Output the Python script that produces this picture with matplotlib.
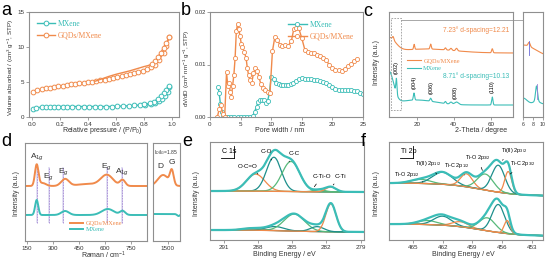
import numpy as np
import matplotlib
matplotlib.use("Agg")
import matplotlib.pyplot as plt

W, H = 546, 262
ORANGE = "#F08A4B"
TEAL = "#3BBDB7"
DTEAL = "#1D8F8C"
GREEN = "#58B97A"
SPINE = "#8F8F8F"
TXT = "#333333"

plt.rcParams["font.family"] = ["Liberation Sans", "DejaVu Sans"]
plt.rcParams["mathtext.fontset"] = "custom"
plt.rcParams["mathtext.rm"] = "Liberation Sans"
plt.rcParams["mathtext.it"] = "Liberation Sans:italic"
plt.rcParams["mathtext.bf"] = "Liberation Sans:bold"
SERIF = "Liberation Serif"

# ---------------- (a) N2 isotherms ----------------
a_gqd_ads_p = [0.01, 0.04, 0.07, 0.10, 0.13, 0.16, 0.19, 0.22, 0.25, 0.28, 0.31, 0.34, 0.37, 0.40, 0.43,
               0.46, 0.49, 0.52, 0.55, 0.58, 0.61, 0.64, 0.67, 0.70, 0.73, 0.76, 0.79, 0.82, 0.85, 0.88,
               0.91, 0.94, 0.96, 0.98]
a_gqd_ads_v = [3.6, 3.8, 3.95, 4.1, 4.2, 4.3, 4.4, 4.5, 4.55, 4.65, 4.7, 4.8, 4.9, 5.0, 5.05,
               5.15, 5.25, 5.35, 5.45, 5.55, 5.7, 5.8, 5.95, 6.1, 6.25, 6.45, 6.6, 6.8, 7.1, 7.5,
               8.2, 9.2, 10.2, 11.4]
a_gqd_des_p = [0.98, 0.96, 0.94, 0.92, 0.90, 0.88, 0.86, 0.83, 0.80, 0.75, 0.70, 0.65, 0.60, 0.55, 0.50, 0.45]
a_gqd_des_v = [11.4, 10.6, 9.9, 9.2, 8.6, 8.0, 7.6, 7.35, 7.2, 6.9, 6.6, 6.35, 6.1, 5.8, 5.45, 5.1]
a_mx_ads_p = [0.01, 0.03, 0.07, 0.10, 0.13, 0.16, 0.19, 0.22, 0.25, 0.29, 0.33, 0.37, 0.41, 0.45, 0.49,
              0.53, 0.57, 0.61, 0.65, 0.69, 0.73, 0.77, 0.81, 0.85, 0.88, 0.91, 0.93, 0.95, 0.97, 0.98]
a_mx_ads_v = [1.2, 1.3, 1.4, 1.45, 1.45, 1.5, 1.5, 1.5, 1.5, 1.5, 1.5, 1.5, 1.5, 1.5, 1.5,
              1.5, 1.5, 1.55, 1.55, 1.6, 1.65, 1.7, 1.75, 1.85, 2.0, 2.3, 2.6, 3.0, 3.6, 4.3]
a_mx_des_p = [0.98, 0.96, 0.94, 0.92, 0.90, 0.87, 0.84, 0.80]
a_mx_des_v = [4.4, 3.9, 3.4, 3.0, 2.6, 2.2, 1.95, 1.8]

# ---------------- (b) pore size distribution ----------------
b_gqd_w = [1.2, 1.5, 1.8, 2.1, 2.4, 2.7, 2.9, 3.1, 3.3, 3.5, 3.7, 3.9, 4.1, 4.3, 4.5, 4.7, 4.9, 5.1, 5.3,
           5.6, 5.9, 6.1, 6.3, 6.5, 6.8, 7.1, 7.4, 7.7, 8.0, 8.3, 8.6, 9.0, 9.4, 9.8, 10.2, 10.6, 11.0,
           11.4, 11.8, 12.3, 12.8, 13.3, 13.7, 14.1, 14.5, 15.0, 15.5, 16.0, 16.5, 17.0, 17.5, 18.0,
           18.5, 19.0, 19.5, 20.0, 20.5, 21.0, 21.5, 22.0, 22.5, 23.0, 23.5, 24.0]
b_gqd_v = [0.0, 0.0015, 0.0022, 0.0005, 0.0, 0.0085, 0.006, 0.0065, 0.0048, 0.0039, 0.006, 0.008,
           0.0112, 0.0163, 0.0177, 0.0168, 0.0155, 0.014, 0.0134, 0.0124, 0.0112, 0.0093, 0.008,
           0.007, 0.0064, 0.0083, 0.0093, 0.0088, 0.0076, 0.0063, 0.0056, 0.0051, 0.0048, 0.0046,
           0.0125, 0.0153, 0.0147, 0.0138, 0.0136, 0.0137, 0.0136, 0.0145, 0.0168, 0.017, 0.0169,
           0.015, 0.0128, 0.0123, 0.0121, 0.0121, 0.0119, 0.0117, 0.0113, 0.0108, 0.0099, 0.0093,
           0.009, 0.009, 0.0088, 0.0092, 0.0097, 0.0101, 0.0106, 0.011]
b_mx_w = [1.3, 1.5, 1.7, 1.9, 2.1, 2.6, 3.0, 3.5, 4.0, 4.5, 5.0, 5.5, 6.0, 6.5, 7.0, 7.3, 7.6, 7.9, 8.2,
          8.5, 8.8, 9.1, 9.4, 9.7, 10.0, 10.4, 10.8, 11.2, 11.6, 12.0, 12.4, 12.8, 13.2, 13.6, 14.0,
          14.5, 15.0, 15.5, 16.0, 16.5, 17.0, 17.5, 18.0, 18.5, 19.0, 19.5, 20.0, 20.5, 21.0, 21.5,
          22.0, 22.5, 23.0, 23.5, 24.0, 24.5, 25.0]
b_mx_v = [0.0058, 0.0045, 0.0025, 0.001, 0.0003, 0, 0, 0, 0, 0, 0, 0, 0, 0, 0.0002, 0.001, 0.002,
          0.0029, 0.0033, 0.0033, 0.0033, 0.0027, 0.003, 0.0045, 0.0077, 0.0072, 0.0065, 0.0062,
          0.0061, 0.0061, 0.0061, 0.0061, 0.0062, 0.0065, 0.0069, 0.0072, 0.0074, 0.0073, 0.0073,
          0.0072, 0.0071, 0.007, 0.0068, 0.0066, 0.0064, 0.0061, 0.0057, 0.0054, 0.0052, 0.0052,
          0.0051, 0.0052, 0.0051, 0.005, 0.0049, 0.0046, 0.0043]

# ---------------- (c) XRD: peaks (centre, height, width) ----------------
c_gqd_base = 64
c_gqd_peaks = [(5.0, 14, 3.5), (25.0, 4, 15), (7.23, 3, 0.4), (18.6, 5, 0.3), (27.5, 5, 0.35),
               (35.5, 2, 0.4), (38.5, 2, 0.5), (41.5, 2.5, 0.5), (60.8, 4, 0.35)]
c_mx_base = 12
c_mx_peaks = [(5.0, 32, 2.5), (20.0, 5, 10), (9.0, 15, 0.3), (18.5, 7, 0.35), (27.5, 3, 0.4),
              (35.5, 2, 0.4), (38.5, 2, 0.6), (41.5, 2.5, 1.0), (60.8, 8, 0.35)]
c_hkl = ["(002)", "(004)", "(006)", "(008)", "(110)"]
c_hkl_pos = [9.0, 18.5, 27.5, 40.5, 60.8]
c_in_gqd_base = 60
c_in_gqd_peaks = [(6.0, 12, 2.5), (7.23, 4, 0.2)]
c_in_mx_base = 13
c_in_mx_peaks = [(6.0, 6, 0.8), (8.71, 15, 0.2), (8.71, 3, 0.6)]

# ---------------- (d) Raman ----------------
d_gqd_base = 55
d_gqd_peaks = [(207, 21, 10), (240, 3, 20), (370, 7, 22), (500, 2, 60), (610, 11, 35), (700, 6, 15)]
d_mx_base = 26
d_mx_peaks = [(207, 15, 9), (370, 4, 22), (615, 6, 35), (700, 4, 15)]
d_modes = ["A$_{1g}$", "E$_g$", "E$_g$", "E$_g$", "A$_{1g}$"]
d_mode_pos = [209, 277, 360, 610, 697]
d_in_gqd_base = 55
d_in_gqd_peaks = [(1400, 11, 110), (1580, 14, 38)]
d_in_mx_base = 27
d_in_mx_peaks = [(1720, -2, 30)]

# ---------------- (e) C 1s ----------------
e_top_bg = (48, 49)
e_top_peaks = [(288.2, 17, 0.8), (286.6, 34, 0.65), (285.1, 30, 0.78), (282.6, 2, 0.5), (281.6, 5, 0.45)]
e_bot_bg = (8, 10)
e_bot_peaks = [(288.5, 2, 0.8), (286.5, 4, 0.8), (284.8, 17, 0.9), (282.8, 5, 0.6), (281.6, 28, 0.45)]
e_names = ["O-C=O", "C-O", "C-C", "C-Ti-O", "C-Ti"]

# ---------------- (f) Ti 2p ----------------
f_top_bg = (44, 57)
f_top_peaks = [(464.2, 4, 1.0), (462.0, 12, 1.0), (459.6, 13, 0.6), (457.7, 16, 0.8),
               (456.4, 27, 0.65), (455.4, 22, 0.35)]
f_bot_bg = (4, 16)
f_bot_peaks = [(463.5, 4, 1.0), (462.0, 9, 0.9), (460.2, 5, 0.8), (457.5, 13, 0.8),
               (456.4, 28, 0.65), (455.5, 13, 0.3)]
f_names = ["Ti-O 2p$_{1/2}$", "Ti(II) 2p$_{1/2}$", "Ti-C 2p$_{1/2}$", "Ti-O 2p$_{3/2}$",
           "Ti(II) 2p$_{3/2}$", "Ti-C 2p$_{3/2}$"]


def gauss(x, c, h, s):
    return h * np.exp(-0.5 * ((x - c) / s) ** 2)


def spec(x, base, peaks):
    y = np.full_like(x, float(base))
    for p in peaks:
        y = y + gauss(x, *p)
    return y


def step_bg(x, lo_hi, c, w):
    lo, hi = lo_hi
    return lo + (hi - lo) / (1 + np.exp(-(x - c) / w))


def px_axes(fig, l, t, r, b):
    return fig.add_axes([l / W, 1 - b / H, (r - l) / W, (b - t) / H])


def style(ax, yt=True):
    for s in ax.spines.values():
        s.set_color(SPINE)
        s.set_linewidth(0.8)
    ax.tick_params(direction="out", length=2, width=0.6, color=SPINE, labelsize=4.5,
                   labelcolor=TXT, pad=1.5)
    if not yt:
        ax.set_yticks([])


fig = plt.figure(figsize=(W / 100, H / 100), dpi=100)

def flabel(x, y, s, rot=0, size=5):
    fig.text(x / W, 1 - y / H, s, rotation=rot, ha="center", va="center", fontsize=size, color=TXT)

for let, x, y in [("a", 1, 15), ("b", 181, 15), ("c", 363, 16), ("d", 1, 146), ("e", 182, 146), ("f", 361, 146)]:
    fig.text(x / W, 1 - y / H, let, fontsize=13, color="black", va="baseline")

# ---- a
ax = px_axes(fig, 29, 12, 179, 117)
style(ax)
mk = dict(marker="o", ms=3.4, mfc="white", mew=0.7, lw=1.0)
ax.plot(a_mx_ads_p, a_mx_ads_v, color=TEAL, label="MXene", **mk)
ax.plot(a_mx_des_p, a_mx_des_v, color=TEAL, **mk)
ax.plot(a_gqd_ads_p, a_gqd_ads_v, color=ORANGE, label="GQDs/MXene", **mk)
ax.plot(a_gqd_des_p, a_gqd_des_v, color=ORANGE, markevery=list(range(7)), **mk)
ax.set_xlim(-0.02, 1.05)
ax.set_ylim(0, 15)
ax.set_xticks([0, 0.2, 0.4, 0.6, 0.8, 1.0])
ax.set_yticks([0, 5, 10, 15])
leg = ax.legend(loc="upper left", frameon=False, prop={"family": SERIF, "size": 5.5},
                handlelength=2.4, borderaxespad=0.6, labelspacing=0.5, handletextpad=0.4)
for t, c in zip(leg.get_texts(), [TEAL, ORANGE]):
    t.set_color(c)
flabel(11, 68, "Volume absorbed / (cm$^3$ g$^{-1}$, STP)", rot=90, size=4.5)
flabel(102, 131, "Relative pressure / (P/P$_0$)")

# ---- b
ax = px_axes(fig, 210, 12, 363, 117)
style(ax)
mk = dict(marker="o", ms=3.0, mfc="white", mew=0.6, lw=1.0)
ax.plot(b_mx_w, b_mx_v, color=TEAL, label="MXene", **mk)
ax.plot(b_gqd_w, b_gqd_v, color=ORANGE, label="GQDs/MXene", **mk)
ax.set_xlim(0, 25)
ax.set_ylim(0, 0.02)
ax.set_xticks([0, 5, 10, 15, 20, 25])
ax.set_yticks([0, 0.01, 0.02])
ax.set_yticklabels(["0.00", "0.01", "0.02"])
ax.tick_params(axis="y", labelsize=4.2, pad=1.0)
leg = ax.legend(loc="upper right", frameon=False, prop={"family": SERIF, "size": 5.5},
                handlelength=2.4, borderaxespad=0.8, labelspacing=0.4, handletextpad=0.4)
for t, c in zip(leg.get_texts(), [TEAL, ORANGE]):
    t.set_color(c)
flabel(187, 68, "dV/dD (cm$^3$ nm$^{-1}$ g$^{-1}$, STP)", rot=90, size=4.5)
flabel(280, 131, "Pore width / nm")

# ---- c
ax = px_axes(fig, 389, 12, 513, 117)
style(ax, yt=False)
x = np.linspace(5, 72, 1500)
ax.plot(x, spec(x, c_gqd_base, c_gqd_peaks), color=ORANGE, lw=0.8, label="GQDs/MXene")
ax.plot(x, spec(x, c_mx_base, c_mx_peaks), color=TEAL, lw=0.8, label="MXene")
ax.set_xlim(5, 72)
ax.set_ylim(0, 105)
ax.set_xticks([20, 40, 60])
ax.plot([5.9, 11.3, 11.3, 5.9, 5.9], [99, 99, 7, 7, 99], ls=(0, (2, 1.5)), color="#9A9A9A", lw=0.6)
ax.plot([11.3, 77.4], [97, 97], color="#9A9A9A", lw=0.6, clip_on=False)
for lab, pos in zip(c_hkl, c_hkl_pos):
    yv = spec(np.array([pos]), c_mx_base, c_mx_peaks)[0]
    ax.text(pos, yv + 4, lab, rotation=90, fontsize=4, ha="center", va="bottom", color="black")
ax.text(0.97, 0.83, "7.23° d-spacing=12.21", transform=ax.transAxes, ha="right", va="center",
        fontsize=4.8, color=ORANGE)
ax.text(0.97, 0.39, "8.71° d-spacing=10.13", transform=ax.transAxes, ha="right", va="center",
        fontsize=4.8, color=TEAL)
leg = ax.legend(loc="center left", bbox_to_anchor=(0.1, 0.5), frameon=False,
                prop={"family": SERIF, "size": 4.5}, handlelength=2.2, labelspacing=0.3,
                handletextpad=0.4)
for t, c in zip(leg.get_texts(), [ORANGE, TEAL]):
    t.set_color(c)
flabel(376, 62, "Intensity (a.u.)", rot=90)
flabel(481, 131, "2-Theta / degree")

ax = px_axes(fig, 523, 12, 543, 117)
style(ax, yt=False)
x = np.linspace(6, 10, 400)
ax.plot(x, spec(x, c_in_gqd_base, c_in_gqd_peaks), color=ORANGE, lw=0.8)
ax.plot(x, spec(x, c_in_mx_base, c_in_mx_peaks), color=TEAL, lw=0.8)
ax.plot([7.23, 7.23], [62, 76], color="#6A6AD8", lw=0.6)
ax.plot([8.71, 8.71], [18, 33], color="#9C7FD6", lw=0.6)
ax.set_xlim(6, 10)
ax.set_ylim(0, 105)
ax.set_xticks([6, 8, 10])
ax.tick_params(labelsize=3.8)

# ---- d
ax = px_axes(fig, 25, 143, 147, 241)
style(ax, yt=False)
x = np.linspace(140, 840, 1500)
for pos in d_mode_pos:
    ax.fill_betweenx([18, 74], pos - 5, pos + 5, color="#E2E0F3", lw=0)
    ax.plot([pos, pos], [18, 74], ls=(0, (2, 1.2)), color="#A88BD6", lw=0.6)
ax.plot(x, spec(x, d_gqd_base, d_gqd_peaks), color=ORANGE, lw=1.4, label="GQDs/MXene")
ax.plot(x, spec(x, d_mx_base, d_mx_peaks), color=TEAL, lw=1.4, label="MXene")
for lab, pos in zip(d_modes, d_mode_pos):
    yv = spec(np.array([pos]), d_gqd_base, d_gqd_peaks)[0]
    ax.text(pos, yv + 3, lab, ha="center", va="bottom", fontsize=6, color=TXT)
ax.set_xlim(140, 840)
ax.set_ylim(0, 98)
ax.set_xticks([150, 300, 450, 600, 750])
leg = ax.legend(loc="lower left", bbox_to_anchor=(0.32, 0.03), frameon=False,
                prop={"family": SERIF, "size": 4.5}, handlelength=2.2, labelspacing=0.2,
                handletextpad=0.4)
for t, c in zip(leg.get_texts(), [ORANGE, TEAL]):
    t.set_color(c)
flabel(17, 193, "Intensity (a.u.)", rot=90)
flabel(104, 255, "Raman / cm$^{-1}$")

ax = px_axes(fig, 153, 143, 180, 241)
style(ax, yt=False)
x = np.linspace(1190, 1750, 400)
ax.plot(x, spec(x, d_in_gqd_base, d_in_gqd_peaks), color=ORANGE, lw=1.4)
ax.plot(x, spec(x, d_in_mx_base, d_in_mx_peaks), color=TEAL, lw=1.4)
ax.text(0.5, 0.9, "I$_D$/I$_G$=1.85", transform=ax.transAxes, ha="center", va="center",
        fontsize=3.6, color=TXT)
ax.text(1350, 71, "D", ha="center", va="bottom", fontsize=6, color=TXT)
ax.text(1585, 75, "G", ha="center", va="bottom", fontsize=6, color=TXT)
ax.set_xlim(1190, 1750)
ax.set_ylim(0, 98)
ax.set_xticks([1500])


def xps(ax, x, bg, peaks, colors, center, w):
    b = step_bg(x, bg, center, w)
    ax.plot(x, b, color=ORANGE, lw=0.7)
    tot = b.copy()
    for p, col in zip(peaks, colors):
        g = gauss(x, *p)
        tot = tot + g
        ax.plot(x, b + g, color=col, lw=0.9)
    ax.plot(x, tot, color=TEAL, lw=1.6)
    return b


def box_label(ax, s):
    ax.text(0.075, 0.9, s, transform=ax.transAxes, fontsize=5, ha="left", va="center", color="black")
    ax.plot([0.07, 0.155], [0.84, 0.84], transform=ax.transAxes, color="black", lw=0.6)
    ax.plot([0.155, 0.155], [0.84, 0.96], transform=ax.transAxes, color="black", lw=0.6)


# ---- e
ax = px_axes(fig, 210, 142, 364, 240)
style(ax, yt=False)
x = np.linspace(278.7, 292.2, 1200)
e_cols = [ORANGE, DTEAL, GREEN, GREEN, ORANGE]
e_cols_b = [ORANGE, DTEAL, GREEN, DTEAL, ORANGE]
xps(ax, x, e_top_bg, e_top_peaks, e_cols, 285, 1.5)
xps(ax, x, e_bot_bg, e_bot_peaks, e_cols_b, 285, 1.5)
ax.set_xlim(292.2, 278.7)
ax.set_ylim(0, 98)
ax.set_xticks([291, 288, 285, 282, 279])
box_label(ax, "C 1s")
ann = dict(fontsize=4.5, color="black", ha="center", va="bottom")
arr = dict(arrowstyle="-", lw=0.5, color="black")
ax.annotate(e_names[0], xy=(288.0, 66), xytext=(288.9, 71), arrowprops=arr, **ann)
ax.annotate(e_names[1], xy=(286.8, 80), xytext=(287.3, 86), arrowprops=arr, **ann)
ax.annotate(e_names[2], xy=(285.4, 76), xytext=(284.8, 84), arrowprops=arr, **ann)
ax.annotate(e_names[3], xy=(283.2, 51), xytext=(282.4, 61), arrowprops=arr, **ann)
ax.annotate(e_names[4], xy=(281.4, 55), xytext=(280.8, 61), arrowprops=arr, **ann)
flabel(197, 193, "Intensity (a.u.)", rot=90)
flabel(284, 255, "Binding Energy / eV")

# ---- f
ax = px_axes(fig, 389, 142, 543, 240)
style(ax, yt=False)
x = np.linspace(451.9, 467.4, 1200)
f_cols = [GREEN, DTEAL, ORANGE, GREEN, DTEAL, ORANGE]
xps(ax, x, f_top_bg, f_top_peaks, f_cols, 458, 1.8)
xps(ax, x, f_bot_bg, f_bot_peaks, f_cols, 458, 1.8)
ax.set_xlim(467.4, 451.9)
ax.set_ylim(0, 98)
ax.set_xticks([465, 462, 459, 456, 453])
box_label(ax, "Ti 2p")
ann_f = dict(fontsize=4.0, color="black", ha="center", va="bottom")
ax.annotate(f_names[0], xy=(464.0, 58), xytext=(465.6, 61), arrowprops=arr, **ann_f)
ax.annotate(f_names[1], xy=(462.6, 66), xytext=(463.5, 72), arrowprops=arr, **ann_f)
ax.annotate(f_names[2], xy=(459.8, 65), xytext=(460.6, 70), arrowprops=arr, **ann_f)
ax.annotate(f_names[3], xy=(457.9, 67), xytext=(458.5, 78), arrowprops=arr, **ann_f)
ax.annotate(f_names[4], xy=(456.2, 78), xytext=(454.8, 85), arrowprops=arr, **ann_f)
ax.annotate(f_names[5], xy=(455.2, 66), xytext=(453.9, 72), arrowprops=arr, **ann_f)
flabel(377, 193, "Intensity (a.u.)", rot=90)
flabel(463, 255, "Binding Energy / eV")

fig.savefig("out.png", dpi=100)
